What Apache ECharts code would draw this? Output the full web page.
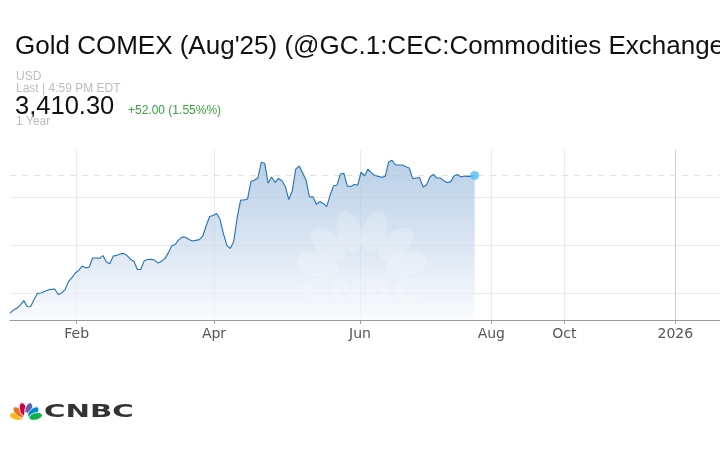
<!DOCTYPE html>
<html>
<head>
<meta charset="utf-8">
<script src="https://cdn.jsdelivr.net/npm/echarts@6/dist/echarts.min.js"></script>
<style>
html,body{margin:0;padding:0;background:#fff;}
#chart{width:720px;height:450px;}
</style>
</head>
<body>
<div id="chart"></div>
<script>
// ---- data (trading-session index on x, Aug'25 gold futures price on y) ----
const priceValues = [
2698.0, 2713.5, 2722.9, 2739.4, 2762.2, 2730.6, 2731.7, 2767.9, 2800.0, 2801.5,
2809.3, 2817.1, 2820.7, 2822.2, 2793.8, 2801.5, 2819.6, 2860.5, 2881.2, 2905.1,
2920.6, 2941.3, 2932.0, 2935.1, 2982.7, 2982.7, 2981.1, 2995.6, 2962.0, 2952.7,
2993.0, 2996.7, 3003.9, 3007.0, 2995.6, 2976.5, 2966.1, 2923.2, 2923.2, 2969.2,
2974.9, 2976.0, 2972.3, 2956.8, 2965.6, 2979.6, 3009.6, 3045.8, 3052.6, 3076.4,
3091.4, 3090.4, 3079.0, 3070.7, 3074.3, 3077.9, 3096.6, 3149.9, 3198.0, 3202.7,
3213.0, 3184.6, 3109.5, 3047.9, 3031.9, 3068.1, 3192.3, 3282.9, 3282.9, 3288.1,
3378.7, 3386.4, 3396.8, 3478.6, 3472.9, 3370.9, 3402.0, 3373.5, 3394.7, 3382.8,
3352.8, 3285.5, 3329.5, 3443.4, 3458.9, 3424.7, 3386.4, 3298.4, 3299.5, 3261.2,
3275.1, 3265.3, 3249.3, 3308.8, 3355.4, 3360.5, 3417.5, 3421.1, 3354.8, 3353.3,
3363.6, 3360.5, 3426.8, 3408.2, 3443.4, 3423.7, 3410.2, 3405.6, 3400.9, 3405.6,
3479.6, 3488.9, 3464.1, 3464.1, 3464.1, 3455.8, 3448.5, 3394.2, 3396.8, 3399.4,
3350.2, 3360.5, 3402.0, 3415.9, 3396.8, 3396.8, 3383.3, 3373.5, 3377.1, 3407.1,
3415.4, 3402.0, 3407.6, 3405.6, 3405.6, 3410.3
];
const tickPositions = [19.38, 59.27, 101.69, 139.83, 161.04, 193.29];
const tickLabels = ['Feb', 'Apr', 'Jun', 'Aug', 'Oct', '2026'];
const gridValues = [2800, 3050, 3300];
const lastPrice = 3410.30;
const changeText = '+52.00 (1.55%%)';
const xMin = 0, xMax = 206.27;
const yMin = 2662, yMax = 3542;

const seriesData = priceValues.map((v, i) => [i, v]);
const lastIndex = priceValues.length - 1;

const FONT = '"Liberation Sans", Arial, Helvetica, sans-serif';

function feathers(bx, by, r, rx, ry, colors, extra, stroke) {
  const angles = [75, 47, 16, -16, -47, -75];
  return angles.map((a, k) => {
    const rad = a * Math.PI / 180;
    const st = { fill: colors[k] };
    if (stroke) { st.stroke = stroke; st.lineWidth = 0.8; }
    return Object.assign({
      type: 'ellipse',
      x: bx - r * Math.sin(rad),
      y: by - r * Math.cos(rad),
      rotation: rad,
      shape: { cx: 0, cy: 0, rx: rx, ry: ry },
      style: st
    }, extra || {});
  });
}

const chart = echarts.init(document.getElementById('chart'), null, { renderer: 'canvas' });

const wm = 'rgba(255,255,255,0.2)';

chart.setOption({
  animation: false,
  backgroundColor: '#ffffff',
  grid: { left: 10, right: 0, top: 150, bottom: 130, containLabel: false },
  xAxis: {
    type: 'value', min: xMin, max: xMax,
    axisLine: { show: true, lineStyle: { color: '#9b9b9b', width: 1 } },
    axisTick: { show: true, customValues: tickPositions, length: 4, lineStyle: { color: '#9b9b9b' } },
    axisLabel: {
      show: true, customValues: tickPositions, margin: 7,
      color: '#555', fontSize: 14, fontFamily: '"DejaVu Sans", sans-serif',
      formatter: function (v) {
        let best = 0, d = Infinity;
        tickPositions.forEach((p, i) => { if (Math.abs(p - v) < d) { d = Math.abs(p - v); best = i; } });
        return tickLabels[best];
      }
    },
    splitLine: { show: false }
  },
  yAxis: {
    type: 'value', min: yMin, max: yMax,
    axisLine: { show: false }, axisTick: { show: false }, axisLabel: { show: false },
    splitLine: { show: false }
  },
  series: [
    {
      type: 'line', data: [], z: 1, silent: true,
      markLine: {
        z: 1, silent: true, symbol: ['none', 'none'], label: { show: false },
        animation: false,
        data: [].concat(
          gridValues.map(v => ({ yAxis: v, lineStyle: { color: '#ececec', width: 1, type: 'solid' } })),
          tickPositions.map((v, i) => ({ xAxis: v, lineStyle: { color: i === 5 ? '#cccccc' : '#ebebeb', width: 1, type: 'solid' } })),
          [{ yAxis: lastPrice, lineStyle: { color: '#d9e8cf', width: 1, type: [6, 6] } }]
        )
      }
    },
    {
      type: 'line', data: seriesData, z: 2, symbol: 'none', silent: true,
      lineStyle: { color: '#2272b5', width: 1.1 },
      areaStyle: {
        origin: 'start',
        color: new echarts.graphic.LinearGradient(0, 0, 0, 1, [
          { offset: 0, color: '#9cbbdd' },
          { offset: 0.55, color: '#cddcee' },
          { offset: 1, color: '#f8fafd' }
        ])
      }
    },
    {
      type: 'scatter', data: [[lastIndex, lastPrice]], z: 4, symbolSize: 9, silent: true,
      itemStyle: { color: '#4fc0f5' }
    }
  ],
  graphic: [].concat(
    [
      { type: 'text', x: 15, y: 47, style: { text: "Gold COMEX (Aug'25) (@GC.1:CEC:Commodities Exchange)", font: 'normal 26px ' + FONT, fill: '#111', verticalAlign: 'middle' } },
      { type: 'text', x: 16, y: 77, style: { text: 'USD', font: 'normal 12px ' + FONT, fill: '#bdbdbd', verticalAlign: 'middle' } },
      { type: 'text', x: 16, y: 89, style: { text: 'Last | 4:59 PM EDT', font: 'normal 12px ' + FONT, fill: '#bdbdbd', verticalAlign: 'middle' } },
      { type: 'text', x: 15, y: 106.5, style: { text: '3,410.30', font: 'normal 25.5px ' + FONT, fill: '#111', verticalAlign: 'middle' } },
      { type: 'text', x: 128, y: 110.5, style: { text: changeText, font: 'normal 12px ' + FONT, fill: '#3aa040', verticalAlign: 'middle' } },
      { type: 'text', x: 16, y: 122, style: { text: '1 Year', font: 'normal 12px ' + FONT, fill: '#bdbdbd', verticalAlign: 'middle' } }
    ],
    feathers(362, 276, 46, 12, 21, [wm, wm, wm, wm, wm, wm], { z: 50, silent: true }),
    [
      { type: 'text', x: 301, y: 292, z: 50, silent: true, scaleX: 1.27, style: { text: 'CNBC', font: 'bold 31px "DejaVu Sans", sans-serif', fill: wm, verticalAlign: 'middle' } }
    ],
    feathers(26, 419, 10, 3.6, 6.8, ['#FCB711', '#F37021', '#CC004C', '#6460AA', '#0089D0', '#0DB14B'], { z: 50 }, '#ffffff'),
    [
      { type: 'ellipse', x: 26, y: 416, z: 51, shape: { cx: 0, cy: 0, rx: 2.2, ry: 4 }, style: { fill: '#ffffff' } },
      { type: 'text', x: 44, y: 412.5, z: 50, scaleX: 1.72, style: { text: 'CNBC', font: 'bold 17px "DejaVu Sans", sans-serif', fill: '#333333', verticalAlign: 'middle' } }
    ]
  )
});
</script>
</body>
</html>
